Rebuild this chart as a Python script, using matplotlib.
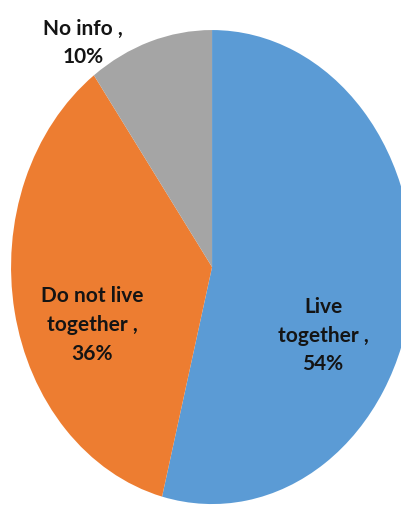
import matplotlib
matplotlib.use('Agg')
import matplotlib.pyplot as plt

labels = ['Live\ntogether ,\n54%', 'Do not live\ntogether ,\n36%', 'No info ,\n10%']
values = [54, 36, 10]
colors = ['#5B9BD5', '#ED7D31', '#A5A5A5']

# label positions in data coords (pie radius = 1)
label_pos = [(0.552, -0.285), (-0.595, -0.24), (-0.642, 0.95)]

fig = plt.figure(figsize=(4.02, 5.06), dpi=100)
ax = fig.add_axes([0, 0, 1, 1])

wedges, _ = ax.pie(values, colors=colors, startangle=90, counterclock=False,
                   wedgeprops={'linewidth': 0})

for (x, y), txt in zip(label_pos, labels):
    ax.text(x, y, txt, ha='center', va='center', fontsize=15,
            fontweight='bold', family='Lato', color='#141414', linespacing=1.55)

ax.set_aspect('auto')
ax.set_xlim(-1.055, 0.945)
ax.set_ylim(-1.004, 1.131)
ax.axis('off')

fig.savefig('out.png', dpi=100)
